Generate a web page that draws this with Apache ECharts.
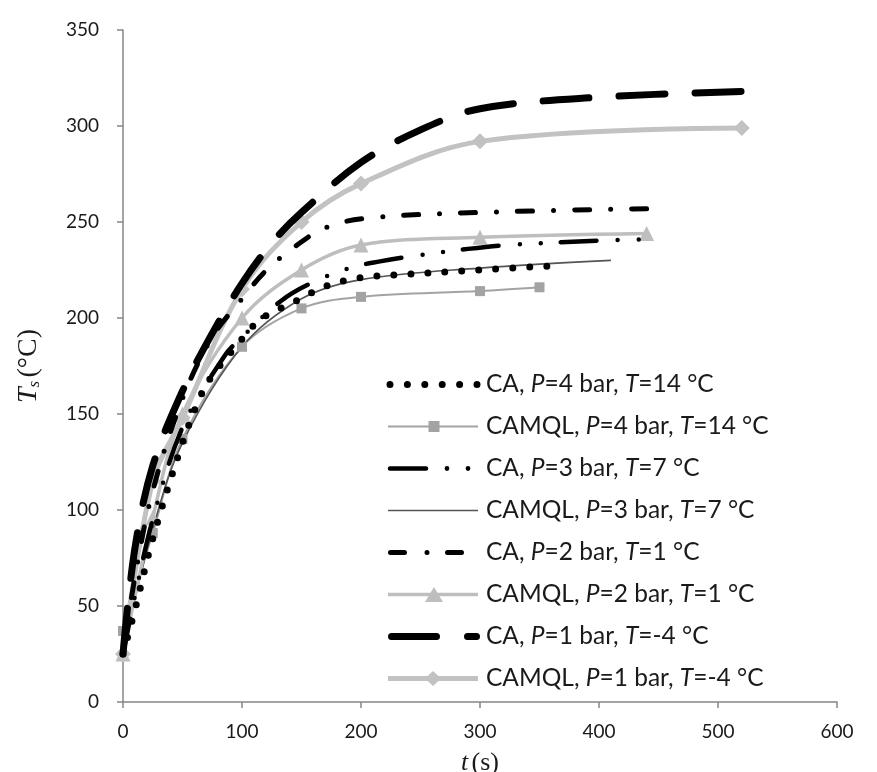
<!DOCTYPE html>
<html><head><meta charset="utf-8">
<script src="https://cdn.jsdelivr.net/npm/echarts@6/dist/echarts.min.js"></script>
<style>html,body{margin:0;padding:0;background:#fff}#c{width:877px;height:772px}</style>
</head><body><div id="c"></div>
<script>
// Data (t in s, Ts in °C)
const caP4 = [[0,25],[10,48],[25,85],[50,135],[65,159],[75,170],[100,189],[108,195],[121,201.5],[146,209],[171,216.7],[199,221],[229,222.4],[300,225],[370,227.5]];
const camqlP4 = [[0,37],[25,88],[50,137],[100,185],[150,205],[200,211],[300,214],[350,216]];
const caP3 = [[0,25],[10,55],[25,95],[50,143],[85,180],[100,190],[133,209],[161,219],[193,226.5],[216,229.5],[241,232],[290,236],[323,238],[407,240.5],[440,241]];
const camqlP3 = [[0,27],[25,90],[50,135],[100,185],[150,210],[200,220],[300,226],[410,230]];
const caP2 = [[0,25],[10,65],[25,110],[50,158],[75,190],[100,210],[119,224],[143,236.5],[170,247],[205,252],[300,255],[450,257]];
const camqlP2 = [[0,25],[25,96],[50,150],[100,200],[150,225],[200,238],[300,242],[440,244]];
const caP1 = [[0,25],[10,80],[25,123],[50,162],[75,192],[100,218],[125,239],[150,255],[200,281],[250,298],[300,309],[400,315],[520,318]];
const camqlP1 = [[0,25],[25,115],[50,148],[100,215],[150,250],[200,270],[300,292],[520,299]];
const seriesNames = ['CA|4|14','CAMQL|4|14','CA|3|7','CAMQL|3|7','CA|2|1','CAMQL|2|1','CA|1|-4','CAMQL|1|-4'];
const xTicks = {min:0, max:600, interval:100};
const yTicks = {min:0, max:350, interval:50};

// legend icon path helpers (96 x 16 box)
const corners = 'M0 0 L0.01 0 L0 0.01 Z M96 16 L95.99 16 L96 15.99 Z ';
const circ = (cx,cy,r)=>`M${cx-r} ${cy} A${r} ${r} 0 1 1 ${cx+r} ${cy} A${r} ${r} 0 1 1 ${cx-r} ${cy} Z `;
const rdash = (x1,x2,cy,h)=>`M${x1} ${cy-h} L${x2} ${cy-h} A${h} ${h} 0 0 1 ${x2} ${cy+h} L${x1} ${cy+h} A${h} ${h} 0 0 1 ${x1} ${cy-h} Z `;
const rect = (x,y,w,h)=>`M${x} ${y} L${x+w} ${y} L${x+w} ${y+h} L${x} ${y+h} Z `;
const icons = [
  corners + [5,22.4,39.8,57.2,74.6,92].map(c=>circ(c,8,3.5)).join(''),
  corners + rect(3,7,90,2) + rect(43.5,2.5,11,11),
  corners + rdash(5,41,8,2.25) + circ(62,8,2.4) + circ(83,8,2.4),
  corners + rect(3,7.25,90,1.5),
  corners + rdash(5.5,19.5,8,2.5) + circ(42,8,2.5) + rdash(62.5,76.5,8,2.5),
  corners + rect(3,6.25,90,3.5) + 'M49 0.5 L58 15.5 L40 15.5 Z ',
  corners + rdash(6.5,51.5,8,3.5) + rdash(82.5,91.5,8,3.5),
  corners + rect(3,5.5,90,5) + 'M48 0.5 L56 8 L48 15.5 L40 8 Z '
];

const chart = echarts.init(document.getElementById('c'), null, {renderer:'canvas'});
function ca(name, data, lw, dash){
  return {name, type:'line', data, smooth:0.35, showSymbol:false, symbol:'none',
    lineStyle:{color:'#000', width:lw, type:dash, cap:'round', join:'round'}, itemStyle:{color:'#000', borderWidth:0}, z:3};
}
function camql(name, data, color, lw, sym, size){
  return {name, type:'line', data, smooth:0.35, showSymbol:sym!=='none', symbol:sym, symbolSize:size,
    lineStyle:{color, width:lw, type:'solid'}, itemStyle:{color, borderWidth:0}, z:2};
}
const option = {
  animation:false,
  grid:{left:123, right:40, top:30, bottom:70, containLabel:false, outerBoundsMode:'none'},
  xAxis:{type:'value', min:xTicks.min, max:xTicks.max, interval:xTicks.interval,
    axisLine:{lineStyle:{color:'#868686', width:1.5}}, axisTick:{show:true, length:6, lineStyle:{color:'#868686', width:1.5}},
    splitLine:{show:false}, axisLabel:{color:'#1a1a1a', fontSize:19, fontFamily:'Lato', margin:20},
    name:'{i|t} {n|(s)}', nameLocation:'middle', nameGap:48,
    nameTextStyle:{rich:{i:{fontFamily:'Liberation Serif', fontStyle:'italic', fontSize:26, color:'#1a1a1a'}, n:{fontFamily:'Liberation Serif', fontSize:26, color:'#1a1a1a'}}}},
  yAxis:{type:'value', min:yTicks.min, max:yTicks.max, interval:yTicks.interval,
    axisLine:{show:true, lineStyle:{color:'#868686', width:1.5}}, axisTick:{show:true, length:6, lineStyle:{color:'#868686', width:1.5}},
    splitLine:{show:false}, axisLabel:{color:'#1a1a1a', fontSize:19, fontFamily:'Lato', margin:24},
    name:'{i|T}{s|s} {n|(°C)}', nameLocation:'middle', nameGap:80, nameRotate:90,
    nameTextStyle:{rich:{i:{fontFamily:'Liberation Serif', fontStyle:'italic', fontSize:28, color:'#1a1a1a'}, s:{fontFamily:'Liberation Serif', fontStyle:'italic', fontSize:17, color:'#1a1a1a', verticalAlign:'bottom', padding:[12,0,0,0]}, n:{fontFamily:'Liberation Serif', fontSize:28, color:'#1a1a1a'}}}},
  legend:{left:380, top:367, orient:'vertical', itemWidth:96, itemHeight:16, itemGap:17, align:'left', symbolKeepAspect:true,
    formatter:function(n){const p=n.split('|'); return '{n|'+p[0]+', }{i|P}{n|='+p[1]+' bar, }{i|T}{n|='+p[2]+' °C}';},
    textStyle:{rich:{n:{fontFamily:'Lato', fontSize:24.5, color:'#1a1a1a', lineHeight:28}, i:{fontFamily:'Lato', fontStyle:'italic', fontSize:24.5, color:'#1a1a1a', lineHeight:28}}},
    data:seriesNames.map((n,i)=>({name:n, icon:'path://'+icons[i]}))},
  series:[
    ca(seriesNames[0], caP4, 7, [0,17]),
    camql(seriesNames[1], camqlP4, '#a3a3a3', 2, 'rect', 10),
    ca(seriesNames[2], caP3, 4.5, [36,21,0,21,0,20]),
    camql(seriesNames[3], camqlP3, '#555555', 1.6, 'none', 0),
    ca(seriesNames[4], caP2, 5, [15,21,0,21]),
    camql(seriesNames[5], camqlP2, '#bebebe', 3.5, 'triangle', 15),
    ca(seriesNames[6], caP1, 7, [46,30]),
    camql(seriesNames[7], camqlP1, '#c2c2c2', 5, 'diamond', 16)
  ]
};
chart.setOption(option);
</script></body></html>
